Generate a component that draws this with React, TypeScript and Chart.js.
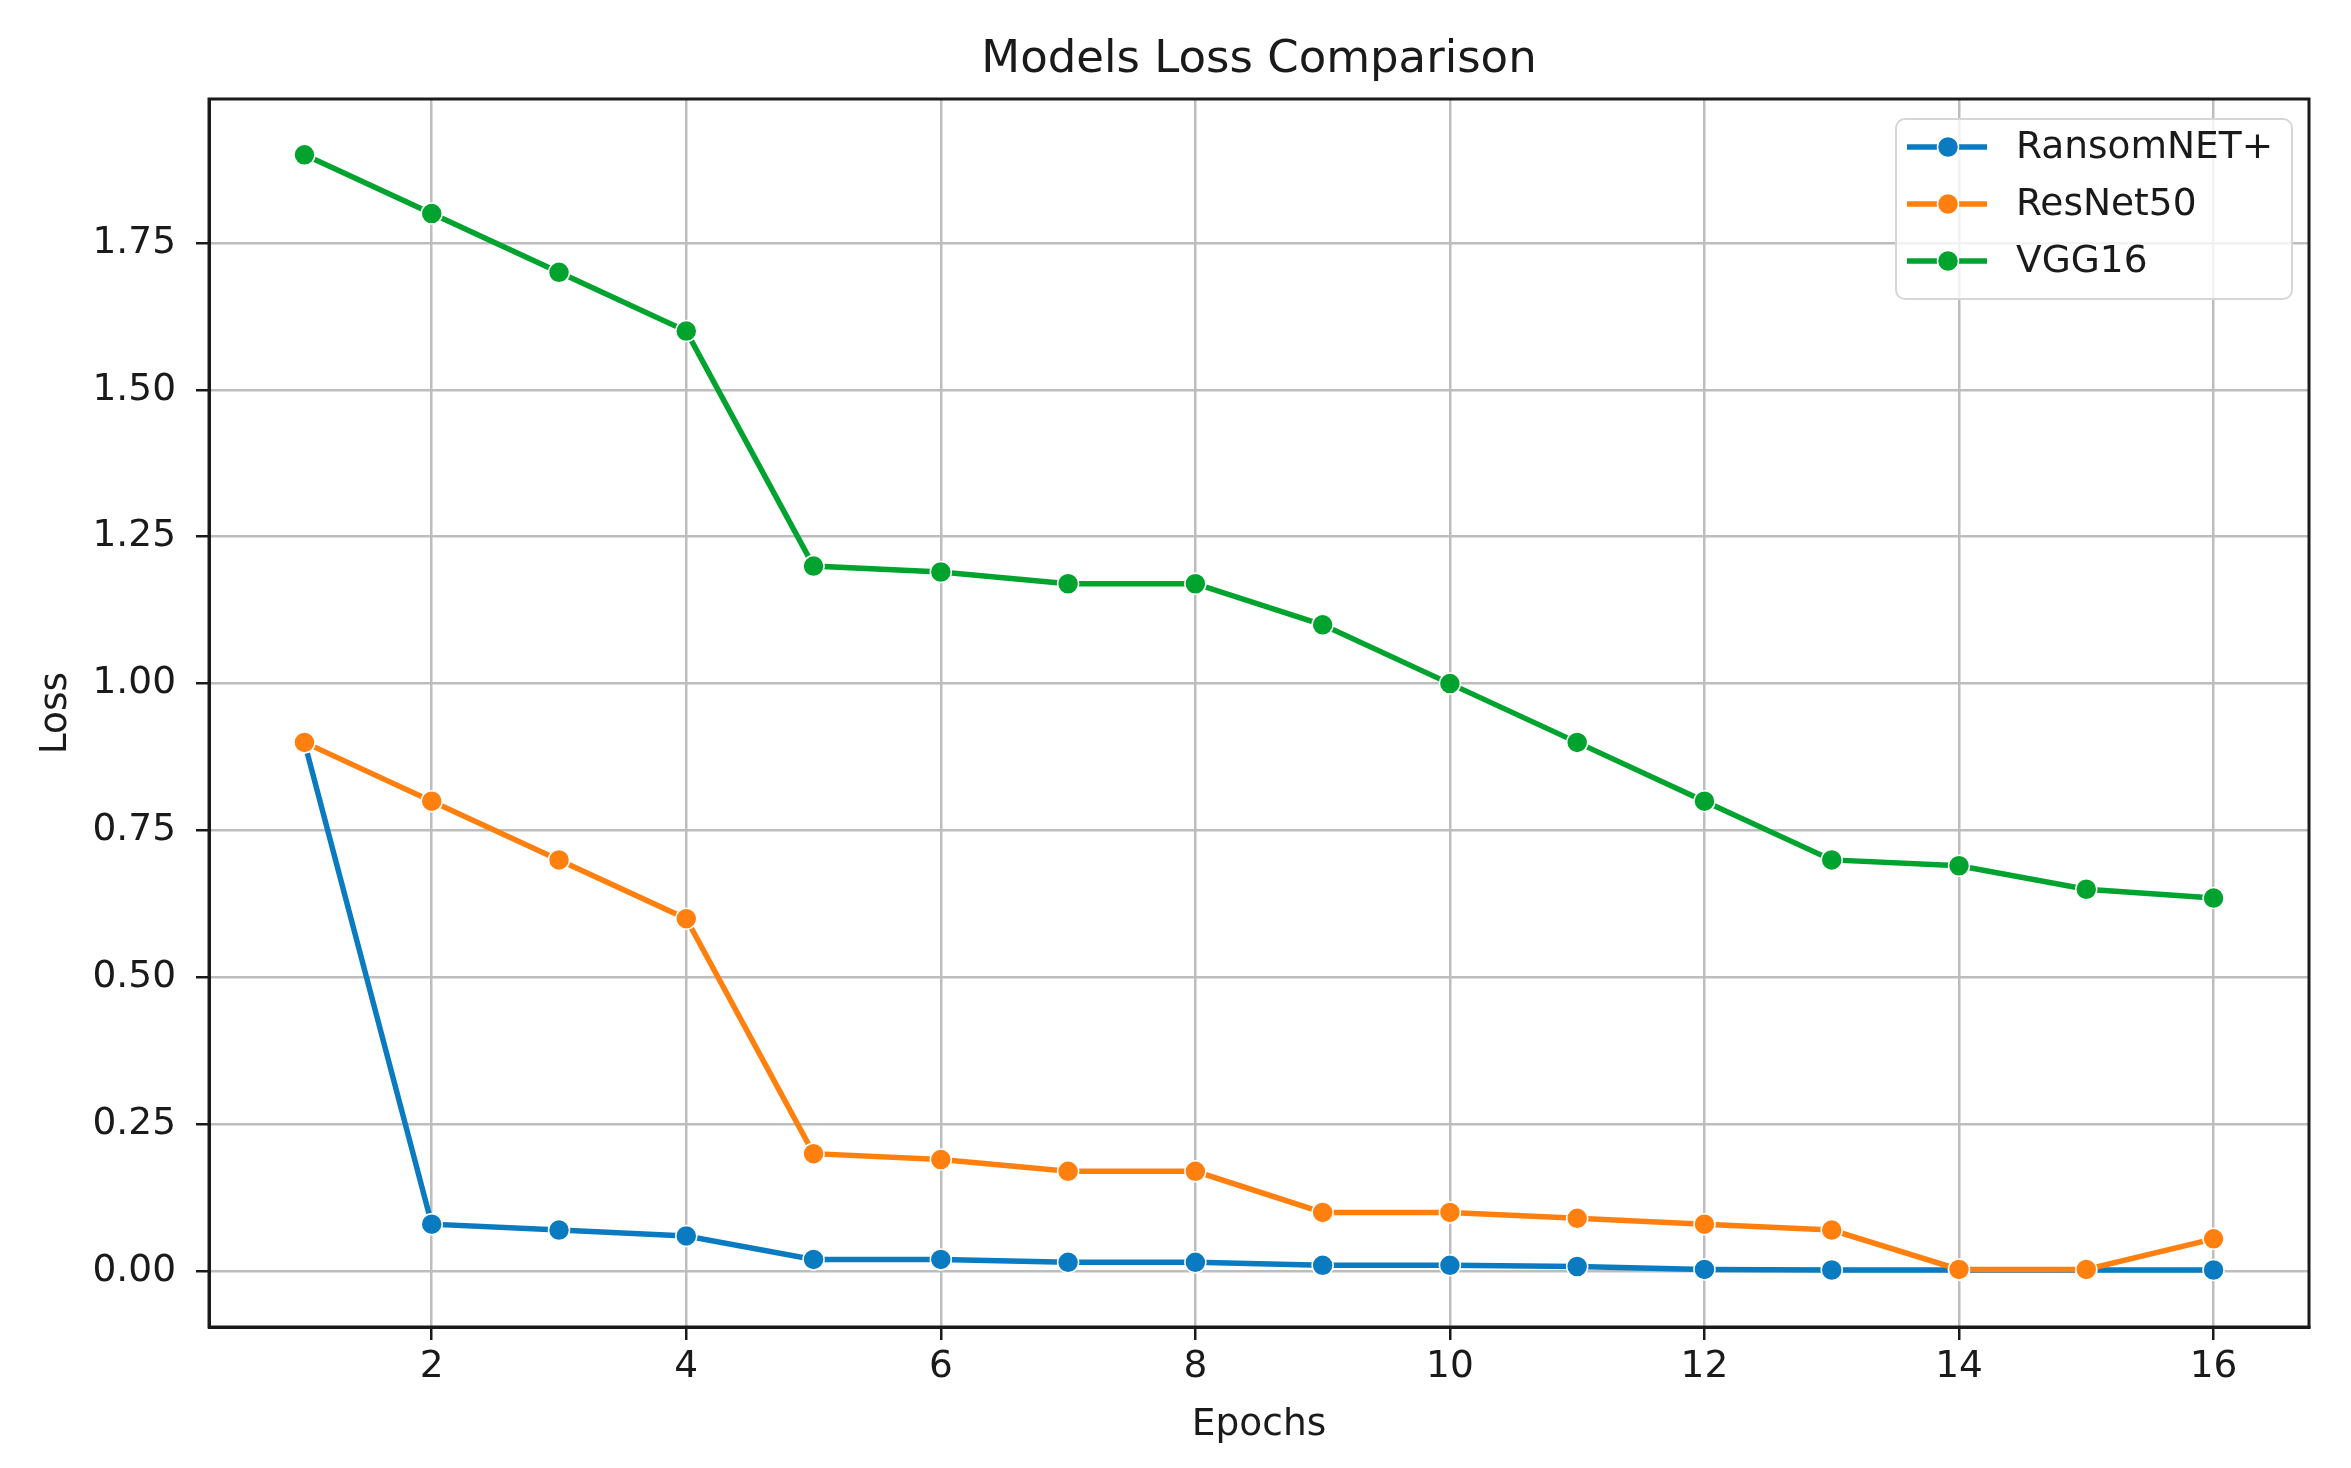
import React, { useEffect, useRef } from "react";
import { Chart, registerables } from "chart.js";

Chart.register(...registerables);

const epochs = [1, 2, 3, 4, 5, 6, 7, 8, 9, 10, 11, 12, 13, 14, 15, 16];
const ransomNetLoss = [0.9, 0.08, 0.07, 0.06, 0.02, 0.02, 0.015, 0.015, 0.01, 0.01, 0.008, 0.003, 0.002, 0.002, 0.002, 0.002];
const resNet50Loss = [0.9, 0.8, 0.7, 0.6, 0.2, 0.19, 0.17, 0.17, 0.1, 0.1, 0.09, 0.08, 0.07, 0.003, 0.003, 0.055];
const vgg16Loss = [1.9, 1.8, 1.7, 1.6, 1.2, 1.19, 1.17, 1.17, 1.1, 1.0, 0.9, 0.8, 0.7, 0.69, 0.65, 0.635];
const seriesNames = ["RansomNET+", "ResNet50", "VGG16"];
const seriesColors = ["#0a7bc0", "#ff800e", "#00a32e"];
const xTickValues = [2, 4, 6, 8, 10, 12, 14, 16];
const yTickValues = [0, 0.25, 0.5, 0.75, 1.0, 1.25, 1.5, 1.75];

const FONT = "'DejaVu Sans', 'Liberation Sans', sans-serif";
const W = 2351;
const H = 1468;

const framePlugin = {
  id: "frameAndLegend",
  afterDraw(chart: any) {
    const { ctx, chartArea } = chart;
    ctx.save();
    ctx.strokeStyle = "#1a1a1a";
    ctx.lineWidth = 3;
    ctx.strokeRect(chartArea.left, chartArea.top, chartArea.right - chartArea.left, chartArea.bottom - chartArea.top);

    const bx = chartArea.right - 413;
    const by = chartArea.top + 20;
    const bw = 396;
    const bh = 180;
    const r = 9;
    ctx.beginPath();
    ctx.moveTo(bx + r, by);
    ctx.lineTo(bx + bw - r, by);
    ctx.arcTo(bx + bw, by, bx + bw, by + r, r);
    ctx.lineTo(bx + bw, by + bh - r);
    ctx.arcTo(bx + bw, by + bh, bx + bw - r, by + bh, r);
    ctx.lineTo(bx + r, by + bh);
    ctx.arcTo(bx, by + bh, bx, by + bh - r, r);
    ctx.lineTo(bx, by + r);
    ctx.arcTo(bx, by, bx + r, by, r);
    ctx.closePath();
    ctx.fillStyle = "rgba(255,255,255,0.8)";
    ctx.fill();
    ctx.strokeStyle = "#d6d6d6";
    ctx.lineWidth = 2;
    ctx.stroke();

    chart.data.datasets.forEach((ds: any, i: number) => {
      const cy = by + 28 + i * 57;
      const lx0 = bx + 11;
      const lx1 = bx + 91;
      const mx = bx + 52;
      ctx.strokeStyle = ds.borderColor;
      ctx.lineWidth = 5.5;
      ctx.beginPath();
      ctx.moveTo(lx0, cy);
      ctx.lineTo(lx1, cy);
      ctx.stroke();
      ctx.beginPath();
      ctx.arc(mx, cy, 10.5, 0, Math.PI * 2);
      ctx.fillStyle = ds.borderColor;
      ctx.fill();
      ctx.strokeStyle = "#ffffff";
      ctx.lineWidth = 1.5;
      ctx.stroke();
      ctx.fillStyle = "#1a1a1a";
      ctx.font = `37.5px ${FONT}`;
      ctx.textAlign = "left";
      ctx.textBaseline = "middle";
      ctx.fillText(ds.label, bx + 120, cy + 1);
    });
    ctx.restore();
  },
};

function toPoints(values: number[]) {
  return values.map((v, i) => ({ x: epochs[i], y: v }));
}

export default function App() {
  const ref = useRef<HTMLCanvasElement | null>(null);

  useEffect(() => {
    document.body.style.margin = "0";
    const canvas = ref.current;
    if (!canvas) return;
    const allSeries = [ransomNetLoss, resNet50Loss, vgg16Loss];
    const chart = new Chart(canvas, {
      type: "line",
      data: {
        datasets: allSeries.map((vals, i) => ({
          label: seriesNames[i],
          data: toPoints(vals),
          borderColor: seriesColors[i],
          backgroundColor: seriesColors[i],
          pointBackgroundColor: seriesColors[i],
          pointBorderColor: "#ffffff",
          pointBorderWidth: 1.5,
          pointRadius: 10.5,
          borderWidth: 5.5,
          tension: 0,
          fill: false,
          order: 3 - i,
        })),
      },
      options: {
        responsive: false,
        animation: false,
        devicePixelRatio: 1,
        layout: { padding: { left: 0, right: 42, top: 0, bottom: 0 } },
        plugins: {
          legend: { display: false },
          tooltip: { enabled: false },
          title: {
            display: true,
            fullSize: false,
            text: "Models Loss Comparison",
            color: "#1a1a1a",
            font: { family: FONT, size: 45, weight: "normal" as any, lineHeight: 1.2 },
            padding: { top: 33, bottom: 12 },
          },
        },
        scales: {
          x: {
            type: "linear",
            min: 0.25,
            max: 16.75,
            afterBuildTicks: (s: any) => {
              s.ticks = xTickValues.map((v) => ({ value: v }));
            },
            afterFit: (s: any) => {
              s.height = H - 1327;
            },
            ticks: {
              color: "#1a1a1a",
              font: { family: FONT, size: 37.5, lineHeight: 1.2 },
              padding: 5,
              maxRotation: 0,
              autoSkip: false,
              callback: (v: any) => String(v),
            },
            grid: {
              color: "#bdbdbd",
              lineWidth: 2.5,
              drawTicks: true,
              tickLength: 13,
              tickColor: "#1a1a1a",
              tickWidth: 2.5,
            },
            border: { display: true, color: "#1a1a1a", width: 3 },
            title: {
              display: true,
              text: "Epochs",
              color: "#1a1a1a",
              font: { family: FONT, size: 37.5, lineHeight: 1.2 },
              padding: { top: 0, bottom: 20 },
            },
          },
          y: {
            type: "linear",
            min: -0.095,
            max: 1.995,
            afterBuildTicks: (s: any) => {
              s.ticks = yTickValues.map((v) => ({ value: v }));
            },
            afterFit: (s: any) => {
              s.width = 209;
            },
            ticks: {
              color: "#1a1a1a",
              font: { family: FONT, size: 37.5, lineHeight: 1.2 },
              padding: 20,
              autoSkip: false,
              callback: (v: any) => Number(v).toFixed(2),
            },
            grid: {
              color: "#bdbdbd",
              lineWidth: 2.5,
              drawTicks: true,
              tickLength: 13,
              tickColor: "#1a1a1a",
              tickWidth: 2.5,
            },
            border: { display: true, color: "#1a1a1a", width: 3 },
            title: {
              display: true,
              text: "Loss",
              color: "#1a1a1a",
              font: { family: FONT, size: 37.5, lineHeight: 1.2 },
              padding: { top: 34, bottom: 0 },
            },
          },
        },
      },
      plugins: [framePlugin],
    });
    return () => chart.destroy();
  }, []);

  return (
    <div style={{ position: "fixed", left: 0, top: 0, width: W, height: H, background: "#ffffff" }}>
      <canvas ref={ref} width={W} height={H} style={{ display: "block", width: W, height: H }} />
    </div>
  );
}
